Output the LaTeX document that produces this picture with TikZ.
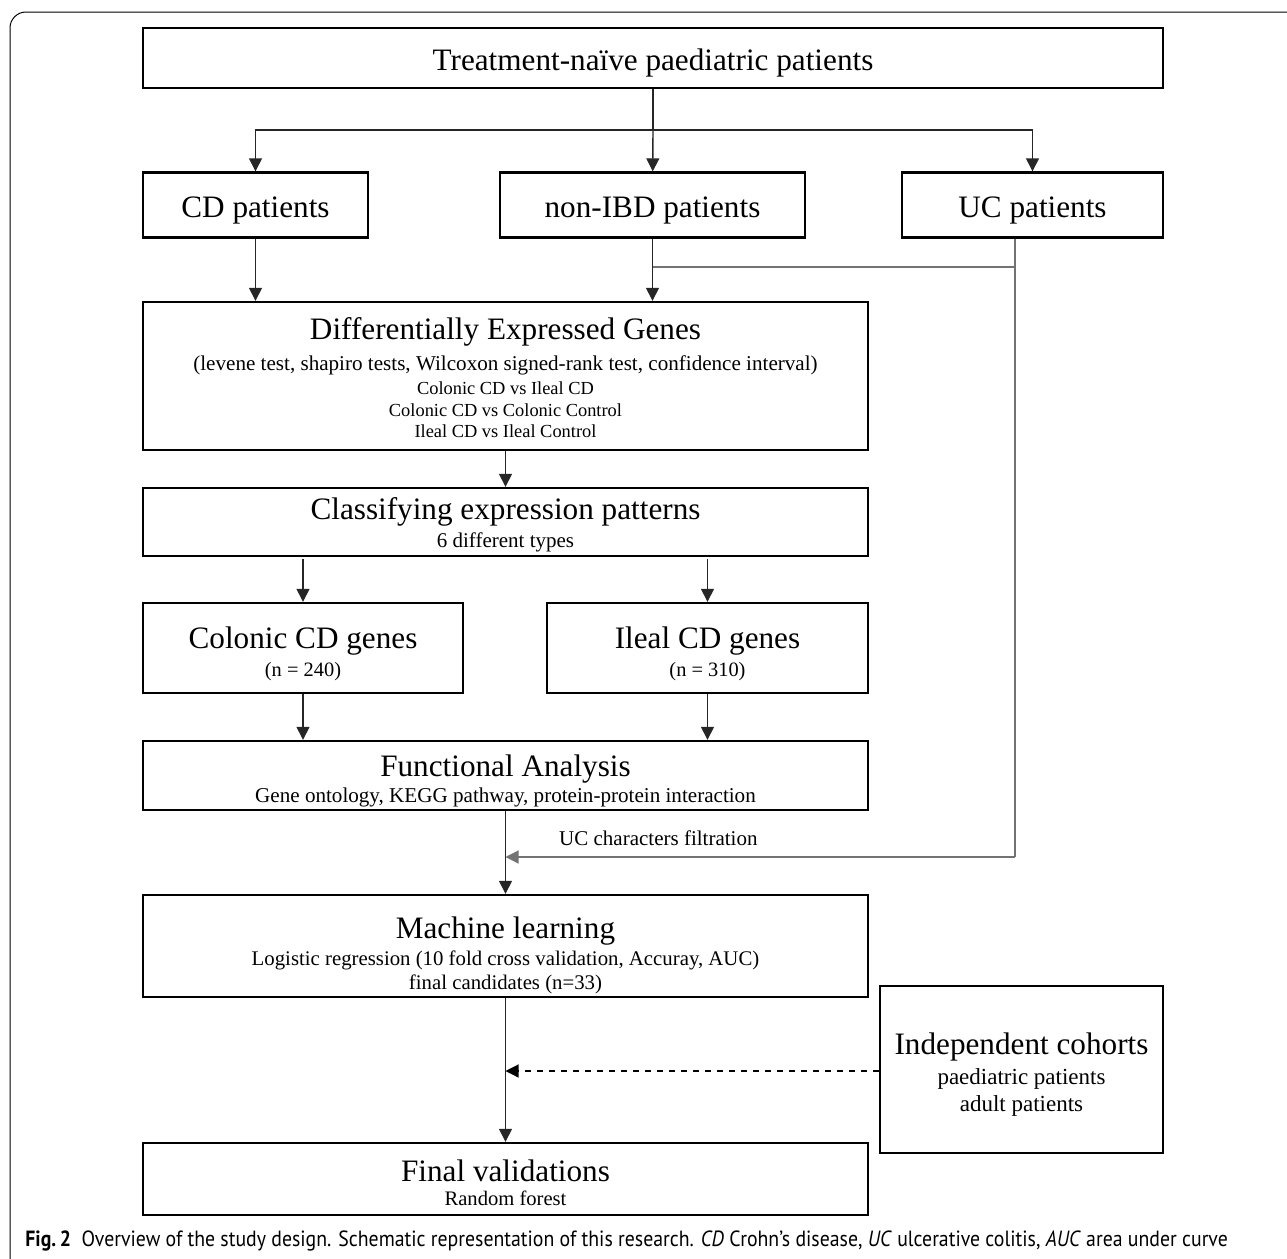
\documentclass[tikz,border=0pt]{standalone}
\usepackage{fontspec}
\setmainfont{Liberation Serif}
\newfontfamily\capfont[FakeStretch=0.9]{PT Sans}
\usetikzlibrary{arrows.meta}

\tikzset{
  box/.style={draw, line width=1.2pt, align=center, inner sep=0pt},
  single/.style={box, font=\fontsize{15.6}{18}\selectfont, text height=12pt, text depth=0pt},
  arr/.style={line width=0.7pt, draw=black!85, -{Triangle[width=6.5pt,length=6.5pt]}},
  ucline/.style={line width=0.6pt, draw=black!55},
  ucarr/.style={ucline, -{Triangle[width=6.5pt,length=6.5pt]}},
  dasharr/.style={line width=0.6pt, dashed, -{Triangle[width=6.5pt,length=6.5pt]}},
}
\newcommand{\hd}[2]{\rule{0pt}{#1}{\fontsize{15.6}{17}\selectfont #2}}

\begin{document}
\begin{tikzpicture}[x=0.5pt, y=-0.5pt]
      \useasboundingbox (0,0) rectangle (1287,1259);
      % frame
      \draw[line width=0.5pt, rounded corners=8pt] (10,1262) -- (10,12) -- (1290,12);

      \node[single, minimum width=510pt, minimum height=30pt] (top) at (653,58) {Treatment-na\"ive paediatric patients};
      \node[single, minimum width=112.5pt, minimum height=32.5pt] (cd) at (255.5,205) {CD patients};
      \node[single, minimum width=152.5pt, minimum height=32.5pt] (non) at (652.5,205) {non-IBD patients};
      \node[single, minimum width=130.5pt, minimum height=32.5pt] (uc) at (1032.5,205) {UC patients};

      \node[box, minimum width=362.5pt, minimum height=74pt] (deg) at (505.5,376)
        {\hd{12.7pt}{Differentially Expressed Genes}\\[3.5pt]
         {\fontsize{10.55}{12.5}\selectfont (levene test, shapiro tests, Wilcoxon signed-rank test, confidence interval)}\\[0pt]
         {\fontsize{9.2}{11}\selectfont Colonic CD vs Ileal CD}\\[-1pt]
         {\fontsize{9.2}{11}\selectfont Colonic CD vs Colonic Control}\\[-1.5pt]
         {\fontsize{9.2}{10.5}\selectfont Ileal CD vs Ileal Control}};
      \node[box, minimum width=362.5pt, minimum height=34pt] (cls) at (505.5,522)
        {\hd{13.7pt}{Classifying expression patterns}\\[2pt]
         {\fontsize{10.5}{12}\selectfont 6 different types}};
      \node[box, minimum width=160pt, minimum height=45pt] (col) at (303,648)
        {\hd{16.7pt}{Colonic CD genes}\\[2pt]
         {\fontsize{10.2}{12}\selectfont (n = 240)}};
      \node[box, minimum width=160.5pt, minimum height=45pt] (ile) at (707.5,648)
        {\hd{16.7pt}{Ileal CD genes}\\[2pt]
         {\fontsize{10.2}{12}\selectfont (n = 310)}};
      \node[box, minimum width=362.5pt, minimum height=34.5pt] (fun) at (505.5,775.5)
        {\hd{16.5pt}{Functional Analysis}\\[1pt]
         {\fontsize{10.55}{12}\selectfont Gene ontology, KEGG pathway, protein-protein interaction}};
      \node[box, minimum width=362.5pt, minimum height=51pt] (ml) at (505.5,946)
        {\hd{20pt}{Machine learning}\\[1.5pt]
         {\fontsize{10.4}{11}\selectfont Logistic regression (10 fold cross validation, Accuray, AUC)}\\
         {\fontsize{10.4}{10.5}\selectfont final candidates (n=33)}};
      \node[box, minimum width=141.5pt, minimum height=83.5pt] (ind) at (1021.5,1069.5)
        {\hd{16.2pt}{Independent cohorts}\\[3pt]
         {\fontsize{11.5}{14}\selectfont paediatric patients}\\[1.5pt]
         {\fontsize{11.5}{14}\selectfont adult patients}};
      \node[box, minimum width=362.5pt, minimum height=36pt] (fin) at (505.5,1179)
        {\hd{14.7pt}{Final validations}\\
         {\fontsize{10.3}{11}\selectfont Random forest}};

      \coordinate (j1) at (653,130);
      \coordinate (u1) at (1015,267);
      \coordinate (u2) at (1015,857);

      \draw[line width=0.7pt, draw=black!85] (top) -- (j1);
      \draw[arr] (j1) -| (cd);
      \draw[arr] (j1) -- (non);
      \draw[arr] (j1) -| (uc);
      \draw[arr] (cd) -- (cd |- deg.north);
      \draw[arr] (non) -- (non |- deg.north);
      \draw[ucline] (uc.south -| u1) -- (u2);
      \draw[ucline] (u1) -- (u1 -| non);
      \draw[ucarr] (u2) -- (u2 -| fun) node[pos=0.7, above=2pt, font=\fontsize{10.5}{12}\selectfont] (filt) {UC characters filtration};
      \draw[arr] (deg) -- (cls);
      \draw[arr] ([yshift=-1pt]cls.south -| col) -- (col);
      \draw[arr] ([yshift=-1pt]cls.south -| ile) -- (ile);
      \draw[arr] (col) -- (col |- fun.north);
      \draw[arr] (ile) -- (ile |- fun.north);
      \draw[arr] (fun) -- (ml);
      \draw[arr] (ml) -- (fin);
      \draw[dasharr] (ind.west |- 0,1071) -- (ml |- 0,1071);

      % caption
      \node[anchor=west, inner sep=0pt, font=\capfont\fontsize{11}{12}\selectfont] (cap) at (25,1241)
        {\textbf{Fig.\,2}\ \ Overview of the study design. Schematic representation of this research. \textit{CD} Crohn’s disease, \textit{UC} ulcerative colitis, \textit{AUC} area under curve};
\end{tikzpicture}
\end{document}
